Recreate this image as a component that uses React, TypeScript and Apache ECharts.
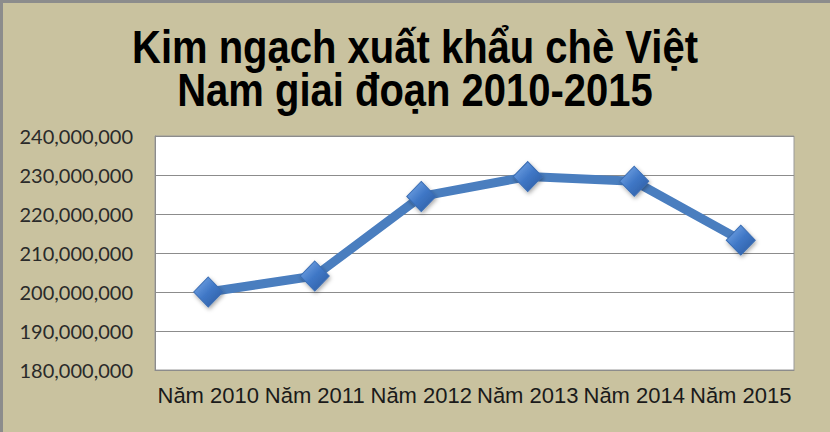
import React, { useEffect, useRef } from "react";
import * as echarts from "echarts";

const categories = ["Năm 2010", "Năm 2011", "Năm 2012", "Năm 2013", "Năm 2014", "Năm 2015"];
const exportValues = [200000000, 204100000, 224500000, 229600000, 228400000, 213300000];
const titleLines = ["Kim ngạch xuất khẩu chè Việt", "Nam giai đoạn 2010-2015"];
const yMin = 180000000;
const yMax = 240000000;
const yInterval = 10000000;

function fmt(v: number): string {
  return String(Math.round(v)).replace(/\B(?=(\d{3})+(?!\d))/g, ",");
}

export default function App() {
  const ref = useRef<HTMLDivElement>(null);
  useEffect(() => {
    if (!ref.current) return;
    const chart = echarts.init(ref.current, undefined, { renderer: "svg" });
    chart.setOption({
      animation: false,
      backgroundColor: "#C9C29F",
      graphic: [
        { type: "rect", shape: { x: 0, y: 0, width: 830, height: 3 }, style: { fill: "#8C8C8C" } },
        { type: "rect", shape: { x: 0, y: 0, width: 3, height: 432 }, style: { fill: "#8C8C8C" } },
        {
          type: "text",
          x: 415,
          y: 26,
          scaleY: 1.15,
          style: {
            text: titleLines.join("\n"),
            textAlign: "center",
            textVerticalAlign: "top",
            fontFamily: "Liberation Sans, Arial, sans-serif",
            fontWeight: "bold",
            fontSize: 40,
            lineHeight: 37,
            fill: "#000000",
          },
        },
      ],
      grid: {
        left: 155,
        right: 36,
        top: 136,
        height: 234,
        show: true,
        backgroundColor: "#FFFFFF",
        borderColor: "#9A9A9A",
        borderWidth: 1,
        containLabel: false,
      },
      xAxis: {
        type: "category",
        data: categories,
        boundaryGap: true,
        axisLine: { show: true, lineStyle: { color: "#8C8C8C", width: 1 } },
        axisTick: { show: false },
        axisLabel: {
          interval: 0,
          margin: 14,
          fontFamily: "Liberation Sans, Arial, sans-serif",
          fontSize: 22,
          color: "#1A1A1A",
        },
      },
      yAxis: {
        type: "value",
        min: yMin,
        max: yMax,
        interval: yInterval,
        axisLine: { show: true, lineStyle: { color: "#8C8C8C", width: 1 } },
        axisTick: { show: false },
        splitLine: { show: true, lineStyle: { color: "#8C8C8C", width: 1 } },
        axisLabel: {
          margin: 22,
          fontFamily: "Lato, 'Open Sans', sans-serif",
          fontSize: 20,
          color: "#2A2A2A",
          formatter: (v: number) => fmt(v),
        },
      },
      series: [
        {
          type: "line",
          data: exportValues,
          symbol: "diamond",
          symbolSize: [29, 30],
          lineStyle: { color: "#4A7EBF", width: 9 },
          itemStyle: {
            color: new echarts.graphic.LinearGradient(0, 0, 1, 1, [
              { offset: 0, color: "#7FAEEB" },
              { offset: 0.5, color: "#3F77C6" },
              { offset: 1, color: "#2B5A9E" },
            ]),
            borderColor: "#3A6DB3",
            borderWidth: 1,
            shadowColor: "rgba(0,0,0,0.35)",
            shadowBlur: 4,
            shadowOffsetX: 1,
            shadowOffsetY: 2,
          },
          emphasis: { disabled: true },
        },
      ],
    });
    return () => chart.dispose();
  }, []);
  return (
    <div
      ref={ref}
      style={{ position: "absolute", left: 0, top: 0, width: 830, height: 432 }}
    />
  );
}
